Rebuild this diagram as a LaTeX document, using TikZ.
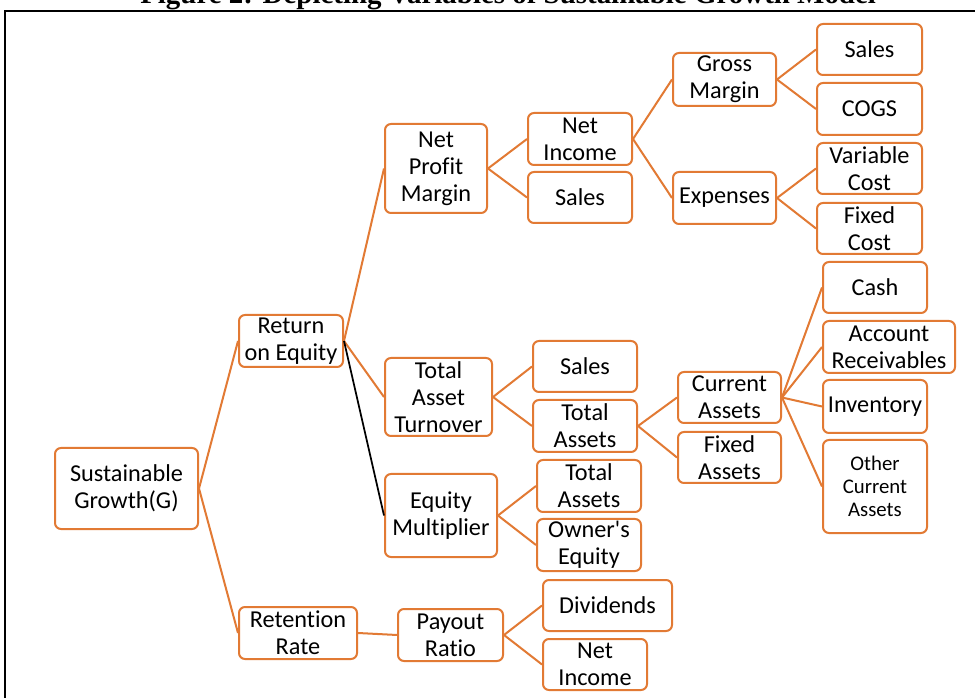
\documentclass[tikz,border=0pt]{standalone}
\usepackage{fontspec}
\newfontfamily\calfont{Carlito}[Ligatures=NoCommon]
\newfontfamily\titlefont{Liberation Serif}
\definecolor{org}{RGB}{226,122,52}
\begin{document}
\begin{tikzpicture}[x=0.75pt,y=-0.75pt,
  bx/.style 2 args={draw=org, line width=1.5pt, rounded corners=4.5pt, fill=white,
    minimum width=#1*0.75pt, minimum height=#2*0.75pt, inner sep=0pt,
    align=center, font=\calfont\fontsize{18.2}{20.25}\selectfont},
  ln/.style={draw=org, line width=1.5pt},
  bl/.style={draw=black, line width=1.3pt}]
\useasboundingbox (0,0) rectangle (975,698);
\clip (0,0) rectangle (975,698);
\fill[white] (0,0) rectangle (975,698);
% title (cut off at top, as in the reference)
\node[anchor=base west, inner sep=0pt, font=\titlefont\bfseries\fontsize{21.7}{24}\selectfont] (title) at (140,4) {Figure 2: Depicting Variables of Sustainable Growth Model};
% frame
\draw[line width=2pt] (5,1000) -- (5,11) -- (1000,11);
% nodes
\node[bx={143}{81}] (sg) at (126.5,488.5) {Sustainable\\Growth(G)};
\node[bx={104}{52}] (roe) at (291,341) {Return\\on Equity};
\node[bx={118}{52}] (rr) at (298,633) {Retention\\Rate};
\node[bx={102}{89}] (npm) at (436,168.5) {Net\\Profit\\Margin};
\node[bx={107}{78}] (tat) at (438.5,397) {Total\\Asset\\Turnover};
\node[bx={112}{83}] (em) at (441,515.5) {Equity\\Multiplier};
\node[bx={105}{52}] (pr) at (450.5,635) {Payout\\Ratio};
\node[bx={104}{52}] (ni1) at (580,139) {Net\\Income};
\node[bx={104}{51}] (s1) at (580,197.5) {Sales};
\node[bx={104}{51}] (s2) at (585,366.5) {Sales};
\node[bx={104}{52}] (ta1) at (585,426) {Total\\Assets};
\node[bx={104}{52}] (ta2) at (589,486) {Total\\Assets};
\node[bx={104}{52}] (oe) at (589,545) {Owner's\\Equity};
\node[bx={129}{51}] (div) at (607.5,605.5) {Dividends};
\node[bx={104}{51}] (ni2) at (595,664.5) {Net\\Income};
\node[bx={103}{53}] (gm) at (724.5,79.5) {Gross\\Margin};
\node[bx={103}{52}] (ex) at (724.5,198) {Expenses};
\node[bx={105}{51}] (s3) at (869.5,49.5) {Sales};
\node[bx={105}{52}] (cogs) at (869.5,109) {COGS};
\node[bx={105}{51}] (vc) at (869.5,168.5) {Variable\\Cost};
\node[bx={105}{51}] (fc) at (869.5,228.5) {Fixed\\Cost};
\node[bx={103}{51}] (ca) at (729.5,397.5) {Current\\Assets};
\node[bx={103}{51}] (fa) at (729.5,457.5) {Fixed\\Assets};
\node[bx={104}{51}] (cash) at (875,287.5) {Cash};
\node[bx={132}{52}] (ar) at (889,347) {Account\\Receivables};
\node[bx={104}{53}] (inv) at (875,406.5) {Inventory};
\node[bx={104}{93}, font=\calfont\fontsize{15.6}{17.25}\selectfont] (oca) at (875,486.5) {Other\\Current\\Assets};
% connectors
\draw[ln] (sg.east) -- (roe.west);
\draw[ln] (sg.east) -- (rr.west);
\draw[ln] (roe.east) -- (npm.west);
\draw[ln] (roe.east) -- (tat.west);
\draw[bl] (roe.east) -- (em.west);
\draw[ln] (rr.east) -- (pr.west);
\draw[ln] (npm.east) -- (ni1.west);
\draw[ln] (npm.east) -- (s1.west);
\draw[ln] (ni1.east) -- (gm.west);
\draw[ln] (ni1.east) -- (ex.west);
\draw[ln] (gm.east) -- (s3.west);
\draw[ln] (gm.east) -- (cogs.west);
\draw[ln] (ex.east) -- (vc.west);
\draw[ln] (ex.east) -- (fc.west);
\draw[ln] (tat.east) -- (s2.west);
\draw[ln] (tat.east) -- (ta1.west);
\draw[ln] (ta1.east) -- (ca.west);
\draw[ln] (ta1.east) -- (fa.west);
\draw[ln] (ca.east) -- (cash.west);
\draw[ln] (ca.east) -- (ar.west);
\draw[ln] (ca.east) -- (inv.west);
\draw[ln] (ca.east) -- (oca.west);
\draw[ln] (em.east) -- (ta2.west);
\draw[ln] (em.east) -- (oe.west);
\draw[ln] (pr.east) -- (div.west);
\draw[ln] (pr.east) -- (ni2.west);
\end{tikzpicture}
\end{document}
